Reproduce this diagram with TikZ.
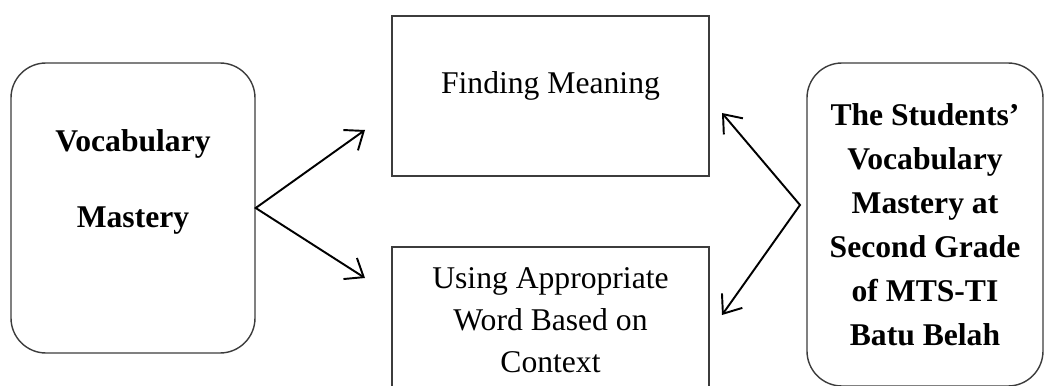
\documentclass[tikz,border=0pt]{standalone}
\usepackage{fontspec}
\setmainfont{Liberation Serif}
\usetikzlibrary{arrows.meta, positioning}
\definecolor{boxline}{RGB}{60, 60, 60}
\tikzstyle{mainbox} = [rectangle, rounded corners=0.7cm, draw=boxline, line width=0.8pt,
                       align=center, font=\fontsize{18}{25}\selectfont\bfseries]
\tikzstyle{process} = [rectangle, draw=boxline, line width=0.8pt, minimum width=6.34cm,
                       align=center, font=\fontsize{18}{24}\selectfont]
\tikzstyle{fork}    = [{Straight Barb[length=3.2mm, width=5mm]}-{Straight Barb[length=3.2mm, width=5mm]},
                       line width=1.1pt, line join=miter]

\begin{document}
\begin{tikzpicture}
  \useasboundingbox (0,0) rectangle (20.92,7.70);

  \node (vocab) [mainbox, minimum width=4.88cm, inner sep=0pt, text height=3.28cm, text depth=2.52cm,
                 font=\fontsize{18}{42.7}\selectfont\bfseries] at (2.66,3.54) {Vocabulary\\Mastery};

  % Two aspects
  \node (find) [process, inner sep=0pt, text height=1.54cm, text depth=1.66cm] at (11.01,5.78) {Finding Meaning};
  \node (use)  [process, minimum height=2.92cm] at (11.01,1.30) {Using Appropriate\\Word Based on\\Context};

  \node (stud) [mainbox, minimum width=4.72cm, minimum height=6.46cm] at (18.50,3.21)
               {The Students'\\Vocabulary\\Mastery at\\Second Grade\\of MTS-TI\\Batu Belah};

  \coordinate (lt1) at (7.30,5.10);
  \coordinate (lt2) at (7.30,2.14);
  \coordinate (rfork) at (16.00,3.60);
  \coordinate (rt1) at (14.44,5.44);
  \coordinate (rt2) at (14.44,1.40);

  \draw [fork] (lt1) -- (vocab.east) -- (lt2);
  \draw [fork] (rt1) -- (rfork) -- (rt2);
\end{tikzpicture}
\end{document}
